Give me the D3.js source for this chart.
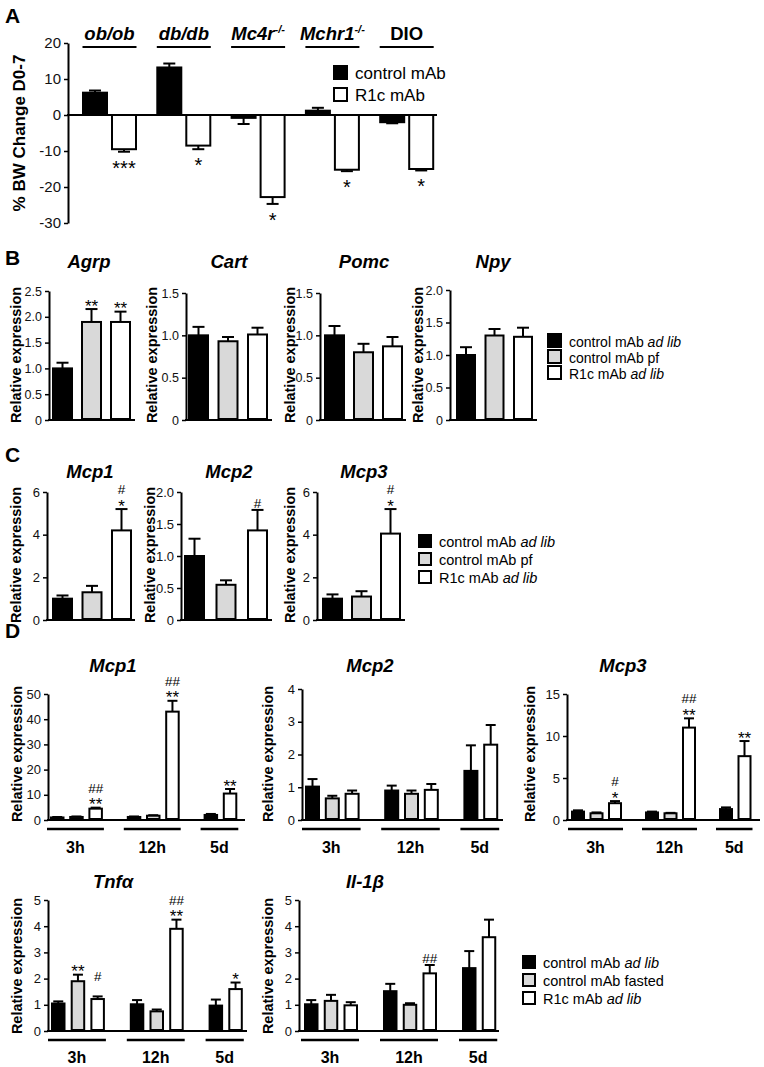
<!DOCTYPE html>
<html><head><meta charset="utf-8">
<script src="https://cdn.jsdelivr.net/npm/d3@7"></script>
<style>body{margin:0;background:#fff} svg{display:block}</style>
</head><body><svg id="c" width="764" height="1067"></svg>
<script>
// ---------- DATA ----------
// Panel A
const aModels = ["ob/ob","db/db","Mc4r","Mchr1","DIO"];
const aModelSup = ["","","-/-","-/-",""];
const aModelItalic = [true,true,true,true,false];
const aControl = [6.2,13.2,-0.8,1.2,-2.0];
const aControlSem = [0.6,1.1,1.7,0.8,0.3];
const aR1c = [-9.5,-8.5,-22.8,-15.2,-15.0];
const aR1cSem = [0.7,1.0,1.9,0.4,0.4];
const aSig = ["***","*","*","*","*"];
const aTicks = [20,10,0,-10,-20,-30];
const aLegend = ["control mAb","R1c mAb"];

// Panel B (series: control ad lib, control pf, R1c ad lib)
const bGenes = ["Agrp","Cart","Pomc","Npy"];
const bMean = [[1.0,1.9,1.9],[1.0,0.93,1.01],[1.0,0.8,0.87],[1.0,1.3,1.28]];
const bSem = [[0.11,0.25,0.2],[0.1,0.05,0.08],[0.11,0.1,0.11],[0.12,0.1,0.14]];
const bSig = [[null,["**"],["**"]],[null,null,null],[null,null,null],[null,null,null]];
const bTicks = [[0,0.5,1,1.5,2,2.5],[0,0.5,1,1.5],[0,0.5,1,1.5],[0,0.5,1,1.5,2]];

// Panel C
const cGenes = ["Mcp1","Mcp2","Mcp3"];
const cMean = [[1.0,1.3,4.2],[1.0,0.55,1.4],[1.0,1.1,4.05]];
const cSem = [[0.15,0.3,1.0],[0.27,0.07,0.32],[0.2,0.25,1.15]];
const cSig = [[null,null,["#","*"]],[null,null,["#"]],[null,null,["#","*"]]];
const cTicks = [[0,2,4,6],[0,0.5,1,1.5,2],[0,2,4,6]];

const legendBC = [[["control mAb ",false],["ad lib",true]],[["control mAb pf",false]],[["R1c mAb ",false],["ad lib",true]]];
const legendD = [[["control mAb ",false],["ad lib",true]],[["control mAb fasted",false]],[["R1c mAb ",false],["ad lib",true]]];

// Panel D (per time: control ad lib, control fasted, R1c ad lib)
const dTimes = ["3h","12h","5d"];
const dGenes = ["Mcp1","Mcp2","Mcp3","Tnfα","Il-1β"];
const dMcp1Mean = [[1.0,1.2,4.5],[1.2,1.7,43.0],[2.0,null,10.5]];
const dMcp1Sem  = [[0.2,0.2,0.4],[0.2,0.2,4.3],[0.4,null,1.8]];
const dMcp1Sig  = [[null,null,["##","**"]],[null,null,["##","**"]],[null,null,["**"]]];
const dMcp2Mean = [[1.02,0.66,0.8],[0.9,0.8,0.92],[1.5,null,2.3]];
const dMcp2Sem  = [[0.23,0.08,0.1],[0.15,0.1,0.18],[0.78,null,0.6]];
const dMcp2Sig  = [[null,null,null],[null,null,null],[null,null,null]];
const dMcp3Mean = [[1.0,0.8,2.0],[0.9,0.8,11.0],[1.3,null,7.6]];
const dMcp3Sem  = [[0.15,0.1,0.25],[0.1,0.05,1.1],[0.2,null,1.8]];
const dMcp3Sig  = [[null,null,["#","*"]],[null,null,["##","**"]],[null,null,["**"]]];
const dTnfMean  = [[1.05,1.9,1.22],[1.02,0.75,3.9],[0.97,null,1.6]];
const dTnfSem   = [[0.08,0.25,0.1],[0.16,0.07,0.35],[0.23,null,0.25]];
const dTnfSig   = [[null,["**"],["#",""]],[null,null,["##","**"]],[null,null,["*"]]];
const dIl1bMean = [[1.02,1.15,0.98],[1.52,1.0,2.2],[2.4,null,3.58]];
const dIl1bSem  = [[0.16,0.23,0.12],[0.28,0.06,0.32],[0.65,null,0.67]];
const dIl1bSig  = [[null,null,null],[null,null,["##"]],[null,null,null]];
const dTicks = [[0,10,20,30,40,50],[0,1,2,3,4],[0,5,10,15],[0,1,2,3,4,5],[0,1,2,3,4,5]];

// ---------- DRAWING ----------
const FONT = '"Liberation Sans", Arial, Helvetica, sans-serif';
const FILLS = ["#000000","#d9d9d9","#ffffff"];
const svg = d3.select("#c");
svg.append("rect").attr("width",764).attr("height",1067).attr("fill","#fff");

function txt(g, x, y, s, o = {}) {
  return g.append("text").attr("x",x).attr("y",y).text(s)
    .attr("font-family",FONT).attr("font-size",o.size||14)
    .attr("font-weight",o.bold?"bold":"normal")
    .attr("font-style",o.italic?"italic":"normal")
    .attr("text-anchor",o.anchor||"start").attr("fill","#000");
}

function yAxis(g, y, x0, ticks, fmt, fs) {
  const ax = d3.axisLeft(y).tickValues(ticks).tickFormat(fmt).tickSize(4).tickSizeOuter(0).tickPadding(3);
  const ag = g.append("g").attr("transform",`translate(${x0},0)`).call(ax);
  ag.select(".domain").attr("stroke","#000").attr("stroke-width",2);
  ag.selectAll(".tick line").attr("stroke","#000").attr("stroke-width",1.5);
  ag.selectAll(".tick text").attr("font-size",fs).attr("font-family",FONT).attr("fill","#111");
  return ag;
}
function rotLabel(g, x, y, s, size) {
  g.append("text").attr("transform",`translate(${x},${y}) rotate(-90)`)
    .attr("text-anchor","middle").attr("dominant-baseline","central")
    .attr("font-family",FONT).attr("font-size",size).attr("font-weight","bold").text(s);
}
function legend(x, y0, step, sq, fs, items) {
  const g = svg.append("g");
  items.forEach((it, i) => {
    const yy = y0 + i*step;
    g.append("rect").attr("x",x+1).attr("y",yy+1).attr("width",sq-2).attr("height",sq-2)
      .attr("fill",FILLS[i]).attr("stroke","#000").attr("stroke-width",2);
    const t = g.append("text").attr("x",x+sq+7).attr("y",yy+sq-1)
      .attr("font-family",FONT).attr("font-size",fs).attr("fill","#000");
    it.forEach(([s,ital]) => t.append("tspan").attr("font-style",ital?"italic":"normal").text(s));
  });
}
const fmt1 = d => d===0 ? "0" : d3.format(".1f")(d);
const fmt0 = d => String(d);

function barPanel(cfg) {
  const g = svg.append("g");
  const y = d3.scaleLinear().domain([0,cfg.yMax]).range([cfg.baseY,cfg.topY]);
  const x = d3.scaleLinear().domain([0,1]).range([cfg.barX0,cfg.barX0+cfg.step]);
  const bars = [];
  cfg.means.forEach((grp, gi) => {
    let k = 0;
    grp.forEach((v, si) => {
      if (v == null) return;
      bars.push({slot: gi*4+k, v, sem: cfg.sems[gi][si], s: si, sig: cfg.sig[gi][si], gi});
      k++;
    });
  });
  bars.forEach(b => {
    const cx = x(b.slot) + cfg.barW/2;
    const yt = y(b.v + b.sem);
    g.append("line").attr("x1",cx).attr("x2",cx).attr("y1",y(b.v)).attr("y2",yt).attr("stroke","#000").attr("stroke-width",2);
    g.append("line").attr("x1",cx-cfg.cap/2).attr("x2",cx+cfg.cap/2).attr("y1",yt).attr("y2",yt).attr("stroke","#000").attr("stroke-width",2);
    if (b.sig) {
      const n = b.sig.length;
      b.sig.forEach((s, li) => {
        const fromBottom = n-1-li;
        const center = yt - (fromBottom===0 ? 7 : 20);
        const isStar = s.indexOf("*")>=0;
        const fs = isStar ? 17 : 13.5;
        const base = center + (isStar ? 9.5 : 5);
        txt(g, cx, base, s, {size:fs, anchor:"middle"});
      });
    }
  });
  g.selectAll(null).data(bars).join("rect")
    .attr("x", d => x(d.slot)+1).attr("width", cfg.barW-2)
    .attr("y", d => y(d.v)).attr("height", d => y(0)-y(d.v)-1)
    .attr("fill", d => FILLS[d.s]).attr("stroke","#000").attr("stroke-width",2);
  yAxis(g, y, cfg.axisX, cfg.ticks, cfg.fmt, cfg.tickSize);
  g.append("line").attr("x1",cfg.axisX-1).attr("x2",cfg.axisEnd).attr("y1",y(0)).attr("y2",y(0)).attr("stroke","#000").attr("stroke-width",2);
  txt(g, cfg.titleX, cfg.titleY, cfg.title, {size:18.5, bold:true, italic:true, anchor:"middle"});
  rotLabel(g, cfg.labelX, cfg.labelY, "Relative expression", 14.5);
  if (cfg.groupNames) {
    cfg.groupNames.forEach((nm, gi) => {
      const gb = bars.filter(b => b.gi===gi);
      const x1 = x(d3.min(gb, b => b.slot)) - 3;
      const x2 = x(d3.max(gb, b => b.slot)) + cfg.barW + 1;
      g.append("line").attr("x1",x1).attr("x2",x2).attr("y1",cfg.underY).attr("y2",cfg.underY).attr("stroke","#000").attr("stroke-width",2.5);
      txt(g, (x1+x2)/2, cfg.groupLabelY, nm, {size:16, bold:true, anchor:"middle"});
    });
  }
}

// ---- Panel letters
txt(svg, 5, 23, "A", {size:21, bold:true});
txt(svg, 5, 265, "B", {size:21, bold:true});
txt(svg, 5, 462, "C", {size:21, bold:true});
txt(svg, 5, 638, "D", {size:21, bold:true});

// ---- Panel A
(function(){
  const g = svg.append("g");
  const y = d3.scaleLinear().domain([-30,20]).range([223,43]);
  const xg = d3.scaleBand().domain(aModels).range([82,82+74.3*5]).paddingInner(0).paddingOuter(0);
  const bw = 26, off = 29;
  const series = [{v:aControl, e:aControlSem, fill:"#000", dx:0},{v:aR1c, e:aR1cSem, fill:"#fff", dx:off}];
  series.forEach(s => {
    aModels.forEach((m,i) => {
      const v = s.v[i], e = s.e[i];
      const cx = xg(m)+s.dx+bw/2;
      const ye = y(v + Math.sign(v)*e);
      g.append("line").attr("x1",cx).attr("x2",cx).attr("y1",y(v)).attr("y2",ye).attr("stroke","#000").attr("stroke-width",2);
      g.append("line").attr("x1",cx-6).attr("x2",cx+6).attr("y1",ye).attr("y2",ye).attr("stroke","#000").attr("stroke-width",2);
    });
  });
  series.forEach(s => {
    g.selectAll(null).data(aModels).join("rect")
      .attr("x", (m) => xg(m)+s.dx+1).attr("width", bw-2)
      .attr("y", (m,i) => Math.min(y(0), y(s.v[i])))
      .attr("height", (m,i) => Math.abs(y(s.v[i])-y(0)))
      .attr("fill", s.fill).attr("stroke","#000").attr("stroke-width",2);
  });
  aModels.forEach((m,i) => {
    const cx = xg(m)+off+bw/2;
    const ye = y(aR1c[i]-aR1cSem[i]);
    txt(g, cx, ye+23, aSig[i], {size:20, anchor:"middle"});
    const gc = xg(m) + (off+bw)/2;
    const t = g.append("text").attr("x",gc).attr("y",40).attr("text-anchor","middle")
      .attr("font-family",FONT).attr("font-size",18.5).attr("font-weight","bold")
      .attr("font-style",aModelItalic[i]?"italic":"normal");
    t.append("tspan").text(m);
    if (aModelSup[i]) t.append("tspan").attr("dy",-7).attr("font-size",11).text(aModelSup[i]);
    g.append("line").attr("x1",gc-27).attr("x2",gc+27).attr("y1",47).attr("y2",47).attr("stroke","#000").attr("stroke-width",2);
  });
  yAxis(g, y, 68, aTicks, fmt0, 15);
  g.append("line").attr("x1",67).attr("x2",437).attr("y1",y(0)).attr("y2",y(0)).attr("stroke","#000").attr("stroke-width",2);
  rotLabel(g, 19, 133, "% BW Change D0-7", 17);
  const lg = svg.append("g");
  aLegend.forEach((s,i) => {
    const yy = 65 + i*22;
    lg.append("rect").attr("x",334).attr("y",yy+1).attr("width",13).attr("height",13)
      .attr("fill", i===0?"#000":"#fff").attr("stroke","#000").attr("stroke-width",2);
    txt(lg, 355, yy+14, s, {size:17});
  });
})();

// ---- Panel B
const bLayout = [
  {axisX:49, topY:291, yMax:2.5, barX0:52, step:29, barW:21, axisEnd:135, titleX:89, labelX:16},
  {axisX:186, topY:293, yMax:1.5, barX0:188, step:29.5, barW:21, axisEnd:272, titleX:229, labelX:152},
  {axisX:320, topY:293, yMax:1.5, barX0:324, step:29, barW:21, axisEnd:406, titleX:364, labelX:290},
  {axisX:450, topY:290, yMax:2.0, barX0:456, step:28.5, barW:20, axisEnd:537, titleX:493, labelX:418}
];
bGenes.forEach((gname,i) => {
  barPanel(Object.assign({}, bLayout[i], {baseY:420, means:[bMean[i]], sems:[bSem[i]], sig:[bSig[i]],
    ticks:bTicks[i], fmt:fmt1, tickSize:12.5, cap:12, title:gname, titleY:268, labelY:355}));
});
legend(547, 333, 16, 15, 14, legendBC);

// ---- Panel C
const cLayout = [
  {axisX:47, topY:492, yMax:6, barX0:52, step:29.5, barW:21, axisEnd:135, titleX:90, labelX:16, fmt:fmt0},
  {axisX:181, topY:492, yMax:2.0, barX0:184, step:31.5, barW:21, axisEnd:272, titleX:229, labelX:150, fmt:fmt1},
  {axisX:317, topY:492, yMax:6, barX0:322, step:29, barW:21, axisEnd:405, titleX:364, labelX:290, fmt:fmt0}
];
cGenes.forEach((gname,i) => {
  barPanel(Object.assign({}, cLayout[i], {baseY:620, means:[cMean[i]], sems:[cSem[i]], sig:[cSig[i]],
    ticks:cTicks[i], tickSize:13, cap:12, title:gname, titleY:478, labelY:555}));
});
legend(418, 534, 18, 14, 14.5, legendBC);

// ---- Panel D
const dMeans = [dMcp1Mean,dMcp2Mean,dMcp3Mean,dTnfMean,dIl1bMean];
const dSems = [dMcp1Sem,dMcp2Sem,dMcp3Sem,dTnfSem,dIl1bSem];
const dSigs = [dMcp1Sig,dMcp2Sig,dMcp3Sig,dTnfSig,dIl1bSig];
const dLayout = [
  {axisX:48, baseY:820, topY:694, yMax:50, barX0:50, step:19.2, barW:14.5, axisEnd:245, titleX:113, titleY:672, labelX:17, labelY:754, underY:829, groupLabelY:853},
  {axisX:302, baseY:820, topY:689, yMax:4, barX0:305, step:19.8, barW:15, axisEnd:503, titleX:370, titleY:672, labelX:268, labelY:754, underY:829, groupLabelY:853},
  {axisX:567, baseY:820, topY:694, yMax:15, barX0:571, step:18.5, barW:14, axisEnd:760, titleX:623, titleY:672, labelX:530, labelY:754, underY:829, groupLabelY:853},
  {axisX:48, baseY:1031, topY:900, yMax:5, barX0:51, step:19.7, barW:14.5, axisEnd:247, titleX:113, titleY:888, labelX:17, labelY:966, underY:1040, groupLabelY:1063},
  {axisX:299, baseY:1031, topY:900, yMax:5, barX0:304, step:19.75, barW:14.5, axisEnd:499, titleX:365, titleY:888, labelX:268, labelY:966, underY:1040, groupLabelY:1063}
];
dGenes.forEach((gname,i) => {
  barPanel(Object.assign({}, dLayout[i], {means:dMeans[i], sems:dSems[i], sig:dSigs[i],
    ticks:dTicks[i], fmt:fmt0, tickSize:13, cap:10, title:gname, groupNames:dTimes}));
});
legend(522, 955, 18, 14, 14.5, legendD);
</script></body></html>
